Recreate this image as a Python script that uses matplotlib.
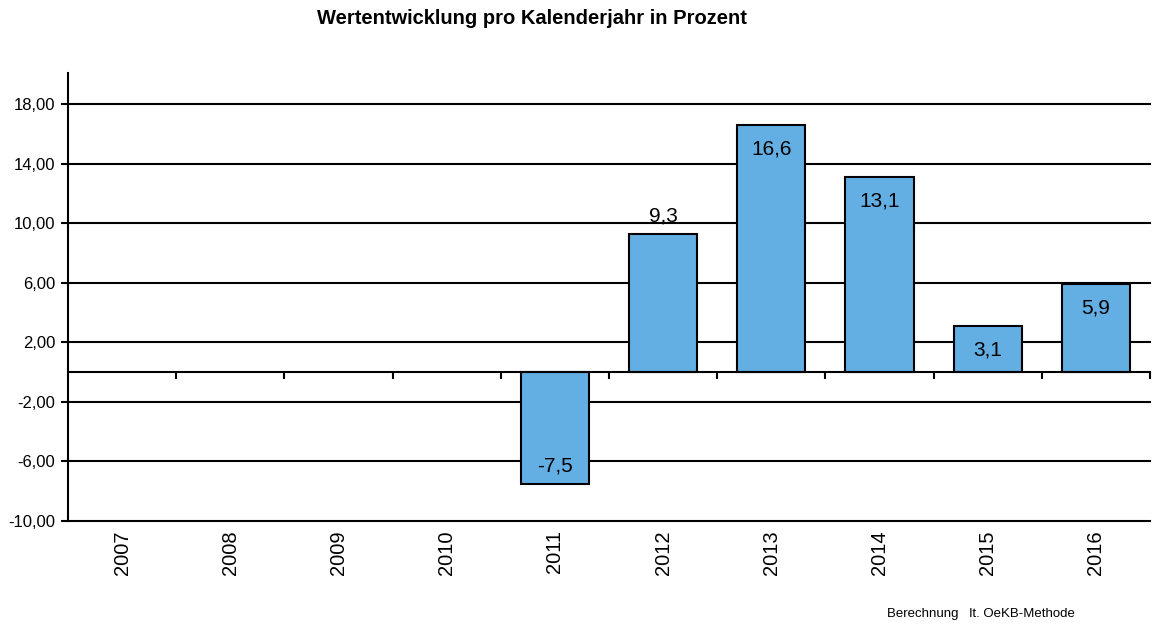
import matplotlib
matplotlib.use('Agg')
import matplotlib.pyplot as plt

plt.rcParams['font.family'] = ['Liberation Sans', 'DejaVu Sans']

# Daten
jahre = ['2007', '2008', '2009', '2010', '2011', '2012', '2013', '2014', '2015', '2016']
werte = [None, None, None, None, -7.5, 9.3, 16.6, 13.1, 3.1, 5.9]
beschriftung = ['', '', '', '', '-7,5', '9,3', '16,6', '13,1', '3,1', '5,9']
label_oben = [False, False, False, False, False, True, False, False, False, False]
y_ticks = [-10, -6, -2, 2, 6, 10, 14, 18]
y_tick_labels = ['-10,00', '-6,00', '-2,00', '2,00', '6,00', '10,00', '14,00', '18,00']

BAR_COLOR = '#63afe3'

fig = plt.figure(figsize=(11.54, 6.24), dpi=100)
ax = fig.add_axes([68 / 1154, 1 - 521 / 624, (1150 - 68) / 1154, (521 - 73) / 624])

ax.set_xlim(-0.5, len(jahre) - 0.5)
ax.set_ylim(-10, 20.08)

# Gitterlinien
for yv in y_ticks:
    ax.axhline(yv, color='black', linewidth=1.5, zorder=1, clip_on=False)

# Balken
xs = [i for i, v in enumerate(werte) if v is not None]
vs = [v for v in werte if v is not None]
ax.bar(xs, vs, width=0.63, color=BAR_COLOR, edgecolor='black', linewidth=1.5, zorder=3)

# Werte-Beschriftung (Mitte des Textes relativ zum Balkenende)
for i, v in enumerate(werte):
    if v is None:
        continue
    if label_oben[i]:
        off = 12.5
    elif v >= 0:
        off = -17.5
    else:
        off = 12.5
    ax.annotate(beschriftung[i], (i, v), xytext=(0, off), textcoords='offset points',
                ha='center', va='center', fontsize=15, zorder=4)

# Achsen
for s in ['top', 'right']:
    ax.spines[s].set_visible(False)
ax.spines['left'].set_linewidth(1.5)
ax.spines['bottom'].set_position(('data', 0))
ax.spines['bottom'].set_linewidth(1.5)
ax.spines['bottom'].set_zorder(5)

ax.set_yticks(y_ticks)
ax.set_yticklabels(y_tick_labels, fontsize=12)
ax.tick_params(axis='y', direction='out', length=5, width=1.5, pad=4)

ax.set_xticks([i + 0.5 for i in range(len(jahre))])
ax.set_xticklabels([])
ax.tick_params(axis='x', direction='out', length=5, width=1.5)

# Jahreszahlen unten
for i, j in enumerate(jahre):
    ax.annotate(j, (i, -10), xytext=(0, -6.5), textcoords='offset points',
                rotation=90, ha='center', va='top', fontsize=14.5)

fig.text(532 / 1154, 1 - 19 / 624, 'Wertentwicklung pro Kalenderjahr in Prozent',
         ha='center', va='center', fontsize=14.5, fontweight='bold')
fig.text(1075 / 1154, 1 - 614 / 624, 'Berechnung   lt. OeKB-Methode',
         ha='right', va='center', fontsize=9.5)

fig.savefig('out.png', dpi=100)
